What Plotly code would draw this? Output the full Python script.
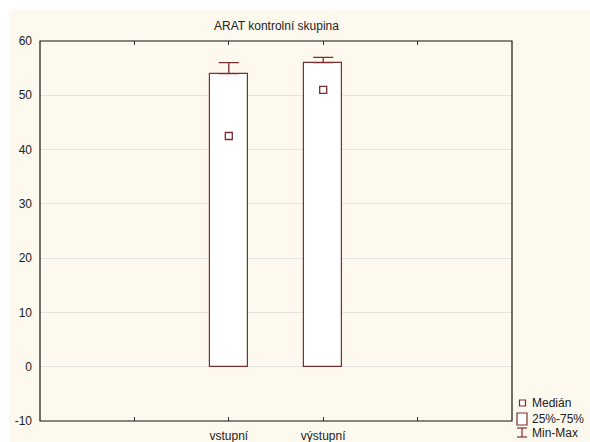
import plotly.graph_objects as go

# Box plot summary: median, quartile box, min-max whiskers
categories = ["vstupní", "výstupní"]
positions = [2, 3]
medians = [42.5, 51]
q1 = [0, 0]
q3 = [54, 56]
mins = [0, 0]
maxs = [56, 57]

tick_vals = [1, 2, 3, 4]
tick_text = ["", "vstupní", "výstupní", ""]
y_ticks = [-10, 0, 10, 20, 30, 40, 50, 60]
y_tick_text = [str(v) for v in y_ticks]

BOX = "#7d2f2f"
CREAM = "#fdf9ee"
FONT = "Liberation Sans, Arial, sans-serif"

W, H = 590, 442
L, R, T, B = 40, 78, 41, 21
pw, ph = W - L - R, H - T - B

def px_x(p):
    return (p - L) / pw

def px_y(p):
    return (H - B - p) / ph

fig = go.Figure()

# quartile boxes
fig.add_trace(go.Bar(
    x=positions, y=[b - a for a, b in zip(q1, q3)], base=q1,
    width=0.4, marker=dict(color="white", line=dict(color=BOX, width=1.2)),
    showlegend=False, hoverinfo="skip"))

# whiskers from the box top to the maximum (minimum coincides with Q1)
fig.add_trace(go.Scatter(
    x=positions, y=q3, mode="markers", marker=dict(size=0.1, color=BOX, opacity=0),
    error_y=dict(type="data", symmetric=False,
                 array=[mx - t for mx, t in zip(maxs, q3)],
                 arrayminus=[0 for _ in q3],
                 color=BOX, thickness=1.3, width=10),
    showlegend=False, hoverinfo="skip"))

# medians
fig.add_trace(go.Scatter(
    x=positions, y=medians, mode="markers",
    marker=dict(symbol="square-open", size=7, color=BOX, line=dict(width=1.3)),
    showlegend=False))

shapes = [
    # cream page background
    dict(type="rect", xref="paper", yref="paper",
         x0=px_x(9), x1=px_x(W + 5), y0=px_y(H + 5), y1=px_y(9),
         fillcolor=CREAM, line=dict(width=0), layer="below"),
    # plot frame
    dict(type="rect", xref="paper", yref="paper", x0=0, x1=1, y0=0, y1=1,
         line=dict(color="#111111", width=1.2), layer="above"),
    # legend glyphs
    dict(type="rect", xref="paper", yref="paper",
         x0=px_x(519.5), x1=px_x(525.5), y0=px_y(406), y1=px_y(400),
         line=dict(color=BOX, width=1.2), fillcolor="white"),
    dict(type="rect", xref="paper", yref="paper",
         x0=px_x(517), x1=px_x(527), y0=px_y(425), y1=px_y(413),
         line=dict(color=BOX, width=1.2), fillcolor="white"),
    dict(type="line", xref="paper", yref="paper",
         x0=px_x(522), x1=px_x(522), y0=px_y(437), y1=px_y(428),
         line=dict(color=BOX, width=1.2)),
    dict(type="line", xref="paper", yref="paper",
         x0=px_x(517), x1=px_x(527), y0=px_y(428), y1=px_y(428),
         line=dict(color=BOX, width=1.2)),
    dict(type="line", xref="paper", yref="paper",
         x0=px_x(517), x1=px_x(527), y0=px_y(437), y1=px_y(437),
         line=dict(color=BOX, width=1.2)),
]

legend_items = [("Medián", 403), ("25%-75%", 419), ("Min-Max", 433)]
annotations = [
    dict(text="ARAT kontrolní skupina", xref="paper", yref="paper",
         x=0.5, y=px_y(26), xanchor="center", yanchor="middle", showarrow=False,
         font=dict(family=FONT, size=12, color="#222222")),
]
for label, py in legend_items:
    annotations.append(dict(text=label, xref="paper", yref="paper",
                            x=px_x(530), y=px_y(py), xanchor="left", yanchor="middle",
                            showarrow=False, font=dict(family=FONT, size=12, color="#222222")))

fig.update_layout(
    width=W, height=H,
    margin=dict(l=L, r=R, t=T, b=B, pad=0, autoexpand=False),
    paper_bgcolor="white", plot_bgcolor="white",
    font=dict(family=FONT, size=12, color="#222222"),
    showlegend=False,
    shapes=shapes, annotations=annotations,
    xaxis=dict(range=[0, 5], tickvals=tick_vals, ticktext=tick_text,
               ticks="inside", ticklen=4, tickcolor="#333333", tickwidth=1,
               showgrid=False, zeroline=False, showline=False, mirror="ticks",
               automargin=False, ticklabelstandoff=6,
               tickfont=dict(family=FONT, size=12, color="#222222")),
    yaxis=dict(range=[-10, 60], tickvals=y_ticks, ticktext=y_tick_text, ticks="",
               showgrid=True, gridcolor="#e3e3e3", gridwidth=1,
               zeroline=False, showline=False,
               automargin=False, ticklabelstandoff=7,
               tickfont=dict(family=FONT, size=12, color="#222222")),
    bargap=0,
)

fig.write_html("out.html")
